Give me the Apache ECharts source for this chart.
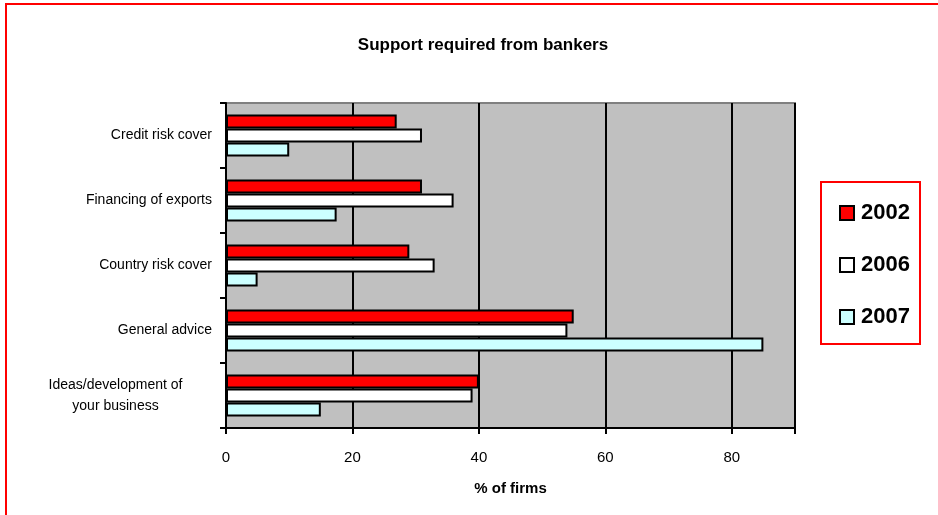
<!DOCTYPE html>
<html>
<head>
<meta charset="utf-8">
<script src="https://cdn.jsdelivr.net/npm/echarts@6/dist/echarts.min.js"></script>
<style>
  html, body { margin: 0; padding: 0; background: #fff; }
  #chart { width: 938px; height: 515px; }
</style>
</head>
<body>
<div id="chart"></div>
<script>
// categories, top to bottom as in the picture
const categories = ['Credit risk cover', 'Financing of exports', 'Country risk cover', 'General advice', 'Ideas/development of\nyour business'];
const years = ['2002', '2006', '2007'];
const values2002 = [27, 31, 29, 55, 40];
const values2006 = [31, 36, 33, 54, 39];
const values2007 = [10, 17.5, 5, 85, 15];
const colors = ['#ff0000', '#ffffff', '#ccffff'];

const chart = echarts.init(document.getElementById('chart'));

const allValues = [values2002, values2006, values2007];

// wrapped labels are centred on their own lines, like the original
function yLabel(v) {
  if (v.indexOf('\n') < 0) return v;
  return v.split('\n').map(s => '{w|' + s + '}').join('\n');
}

const option = {
  animation: false,
  textStyle: { fontFamily: 'Liberation Sans, Arial, sans-serif', color: '#000' },
  title: {
    text: 'Support required from bankers',
    left: 478,
    top: 32,
    textAlign: 'center',
    textStyle: { fontSize: 17, fontWeight: 'bold', color: '#000' }
  },
  legend: {
    orient: 'vertical',
    left: 834,
    top: 197,
    itemGap: 30,
    itemWidth: 14,
    itemHeight: 14,
    icon: 'rect',
    data: years,
    textStyle: { fontSize: 22, fontWeight: 'bold', color: '#000', padding: [0, 0, 0, 2] }
  },
  grid: {
    left: 226,
    right: 143,
    top: 103,
    bottom: 87,
    show: true,
    backgroundColor: '#c0c0c0',
    borderColor: '#808080',
    borderWidth: 2
  },
  xAxis: {
    type: 'value',
    min: 0,
    max: 90,
    interval: 20,
    name: '% of firms',
    nameLocation: 'middle',
    nameGap: 53,
    nameTextStyle: { fontSize: 15, fontWeight: 'bold', color: '#000' },
    axisLine: { show: true, lineStyle: { color: '#000', width: 2 } },
    axisTick: { show: true, length: 6, lineStyle: { color: '#000', width: 2 } },
    axisLabel: { fontSize: 15, color: '#000', margin: 22,
      formatter: v => (v % 20 === 0 ? String(v) : '') },
    splitLine: { show: true, lineStyle: { color: '#000', width: 2 } }
  },
  yAxis: {
    type: 'category',
    inverse: true,
    data: categories,
    axisLine: { show: true, lineStyle: { color: '#000', width: 2 } },
    axisTick: { show: true, length: 6, lineStyle: { color: '#000', width: 2 } },
    axisLabel: {
      fontSize: 14, color: '#000', margin: 14, lineHeight: 21,
      formatter: yLabel,
      rich: {
        w: { fontSize: 14, color: '#000', lineHeight: 21, width: 137, align: 'center', padding: [0, 28, 0, 0] }
      }
    }
  },
  series: years.map((y, i) => ({
    name: y,
    type: 'bar',
    data: allValues[i],
    barWidth: 14,
    barGap: '0%',
    itemStyle: { color: colors[i], borderColor: '#000', borderWidth: 2 }
  })),
  graphic: [
    {
      type: 'rect',
      shape: { x: 6, y: 4, width: 940, height: 520 },
      style: { fill: 'none', stroke: '#ff0000', lineWidth: 2 },
      silent: true
    },
    {
      type: 'rect',
      shape: { x: 821, y: 182, width: 99, height: 162 },
      style: { fill: 'none', stroke: '#ff0000', lineWidth: 2 },
      silent: true
    }
  ]
};

chart.setOption(option);
</script>
</body>
</html>
